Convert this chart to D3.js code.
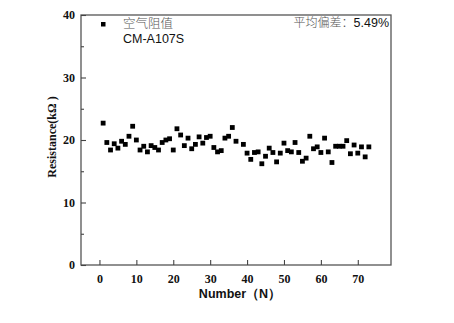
<!DOCTYPE html>
<html>
<head>
<meta charset="utf-8">
<script src="https://cdn.jsdelivr.net/npm/d3@7"></script>
<style>
  body { margin: 0; background: #fff; }
  svg { display: block; }
</style>
</head>
<body>
<svg id="chart" width="454" height="323"></svg>
<script>
// sample numbers (no point at N=38 in the picture)
const numbers = [1,2,3,4,5,6,7,8,9,10,11,12,13,14,15,16,17,18,19,20,
  21,22,23,24,25,26,27,28,29,30,31,32,33,34,35,36,37,
  39,40,41,42,43,44,45,46,47,48,49,50,51,52,53,54,55,56,57,58,59,60,
  61,62,63,64,65,66,67,68,69,70,71,72,73];
// resistance in kOhm
const resistance = [22.7,19.6,18.4,19.4,18.7,19.8,19.3,20.6,22.2,20.0,
  18.4,19.0,18.1,19.1,18.8,18.4,19.6,20.0,20.2,18.4,
  21.8,20.8,19.1,20.3,18.6,19.3,20.5,19.5,20.4,20.6,
  18.8,18.1,18.3,20.3,20.6,22.0,19.8,
  19.3,17.9,16.9,18.0,18.1,16.2,17.4,18.7,18.0,16.5,17.9,19.5,18.3,18.1,
  19.6,18.0,16.6,17.1,20.6,18.6,18.9,18.0,20.3,18.1,16.4,19.0,19.0,19.0,
  19.9,17.8,19.2,17.9,18.9,17.3,18.9];
const xTicks = [0, 10, 20, 30, 40, 50, 60, 70];
const yTicks = [0, 10, 20, 30, 40];
const yMinor = [5, 15, 25, 35];
const seriesName = "空气阻值";
const seriesSub = "CM-A107S";
const deviationText = "平均偏差：";
const deviationValue = "5.49%";

let svg = d3.select("#chart");

let dims = { left: 81, right: 391, top: 15, bottom: 265 };

let xScale = d3.scaleLinear().domain([-5, 79]).range([dims.left, dims.right]);
let yScale = d3.scaleLinear().domain([0, 40]).range([dims.bottom, dims.top]);

let data = numbers.map((n, i) => ({ n: n, v: resistance[i] }));

// frame
svg.append("rect")
  .attr("x", dims.left)
  .attr("y", dims.top)
  .attr("width", dims.right - dims.left)
  .attr("height", dims.bottom - dims.top)
  .attr("fill", "none")
  .attr("stroke", "#555")
  .attr("stroke-width", 1.3);

// x axis, ticks pointing inward
let xAxis = d3.axisBottom(xScale).tickValues(xTicks).tickSize(-5).tickPadding(9);
let gx = svg.append("g")
  .attr("transform", "translate(0," + dims.bottom + ")")
  .call(xAxis);
gx.select(".domain").remove();
gx.selectAll(".tick line").attr("stroke", "#444").attr("stroke-width", 1.1);
gx.selectAll("text")
  .attr("font-family", "'Liberation Serif', 'Times New Roman', serif")
  .attr("font-weight", "bold")
  .attr("font-size", 12)
  .attr("fill", "#111");

// y axis
let yAxis = d3.axisLeft(yScale).tickValues(yTicks).tickSize(-5).tickPadding(6);
let gy = svg.append("g")
  .attr("transform", "translate(" + dims.left + ",0)")
  .call(yAxis);
gy.select(".domain").remove();
gy.selectAll(".tick line").attr("stroke", "#444").attr("stroke-width", 1.1);
gy.selectAll("text")
  .attr("font-family", "'Liberation Serif', 'Times New Roman', serif")
  .attr("font-weight", "bold")
  .attr("font-size", 12)
  .attr("fill", "#111");

let gyMinor = svg.append("g")
  .attr("transform", "translate(" + dims.left + ",0)")
  .call(d3.axisLeft(yScale).tickValues(yMinor).tickSize(-3).tickFormat(""));
gyMinor.select(".domain").remove();
gyMinor.selectAll(".tick line").attr("stroke", "#444").attr("stroke-width", 1.1);

// axis titles
svg.append("text")
  .text("Resistance(kΩ )")
  .attr("transform", "translate(56,137) rotate(-90)")
  .attr("text-anchor", "middle")
  .attr("font-family", "'Liberation Serif', 'Times New Roman', serif")
  .attr("font-weight", "bold")
  .attr("font-size", 12)
  .attr("fill", "#111");

svg.append("text")
  .text("Number（N）")
  .attr("x", (dims.left + dims.right) / 2 + 4)
  .attr("y", 298)
  .attr("text-anchor", "middle")
  .attr("font-family", "'Liberation Sans', Arial, sans-serif")
  .attr("font-weight", "bold")
  .attr("font-size", 12.5)
  .attr("fill", "#111");

// points
let size = 4.8;
svg.append("g")
  .selectAll("rect")
  .data(data)
  .enter()
  .append("rect")
  .attr("x", (d) => xScale(d.n) - size / 2)
  .attr("y", (d) => yScale(d.v) - size / 2)
  .attr("width", size)
  .attr("height", size)
  .attr("fill", "#000");

// legend
svg.append("rect")
  .attr("x", 101)
  .attr("y", 22)
  .attr("width", 4.5)
  .attr("height", 4.5)
  .attr("fill", "#000");

svg.append("text")
  .text(seriesName)
  .attr("x", 123)
  .attr("y", 28)
  .attr("font-family", "'Noto Sans CJK SC', sans-serif")
  .attr("font-weight", 300)
  .attr("font-size", 12.5)
  .attr("fill", "#555");

svg.append("text")
  .text(seriesSub)
  .attr("x", 123)
  .attr("y", 43)
  .attr("font-family", "'Liberation Sans', Arial, sans-serif")
  .attr("font-size", 12.5)
  .attr("fill", "#111");

let dev = svg.append("text")
  .attr("x", 389)
  .attr("y", 27)
  .attr("text-anchor", "end");
dev.append("tspan")
  .text(deviationText)
  .attr("font-family", "'Noto Sans CJK SC', sans-serif")
  .attr("font-weight", 300)
  .attr("font-size", 12)
  .attr("fill", "#555");
dev.append("tspan")
  .text(deviationValue)
  .attr("font-family", "'Liberation Sans', Arial, sans-serif")
  .attr("font-size", 12.5)
  .attr("fill", "#111");
</script>
</body>
</html>
